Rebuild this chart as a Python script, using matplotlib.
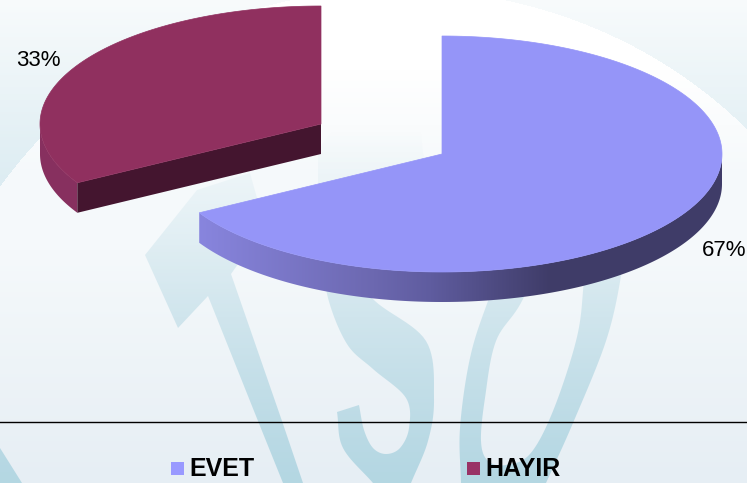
import numpy as np
import matplotlib
matplotlib.use("Agg")
import matplotlib.pyplot as plt
from matplotlib.patches import Polygon, Rectangle

plt.rcParams["font.family"] = ["Liberation Sans", "DejaVu Sans"]

categories = ["EVET", "HAYIR"]
values = [66.7, 33.3]

W, H = 747, 483

fig = plt.figure(figsize=(W / 100, H / 100), dpi=100)
ax = fig.add_axes([0, 0, 1, 1])
ax.set_xlim(0, W)
ax.set_ylim(H, 0)
ax.axis("off")

# background: pale gradient, white swoosh at the top, bluish tint outside it
xx, yy = np.meshgrid(np.arange(W) + 0.5, np.arange(H) + 0.5)
light = np.array([0xf5, 0xf9, 0xfb]) / 255
low = np.array([0xe6, 0xee, 0xf4]) / 255
t = np.clip((yy - 250) / 233, 0, 1)[..., None]
bg = light * (1 - t) + low * t
white = np.clip(1 - (yy - 70) / 110, 0, 1)[..., None]
bg = bg * (1 - white) + white
outside = ((xx - 398) / 477) ** 2 + ((yy - 430) / 441) ** 2 > 1
pale = np.array([0xf8, 0xfb, 0xfc]) / 255
tint = np.array([0xdc, 0xec, 0xf2]) / 255
s = np.clip(yy / 187, 0, 1)[..., None]
bg[outside] = (pale * (1 - s) + tint * s)[outside]
ax.imshow(bg, extent=[0, W, H, 0], aspect="auto", zorder=0)


def smooth(pts, n=12):
    # catmull-rom through an open run of points
    p = np.array(pts, dtype=float)
    p = np.vstack([2 * p[0] - p[1], p, 2 * p[-1] - p[-2]])
    out = []
    for i in range(1, len(p) - 2):
        u = np.linspace(0, 1, n, endpoint=False)[:, None]
        out.append(0.5 * (2 * p[i] + (p[i + 1] - p[i - 1]) * u
                          + (2 * p[i - 1] - 5 * p[i] + 4 * p[i + 1] - p[i + 2]) * u ** 2
                          + (3 * p[i] - p[i - 1] - 3 * p[i + 1] + p[i + 2]) * u ** 3))
    out.append(p[-2:-1])
    return np.vstack(out)


# watermark letters, ink gets stronger towards the bottom
t_shape = np.array([(145, 255), (178, 328), (208, 296), (258, 421), (283, 483), (303, 483),
                    (282, 421), (231, 274), (262, 230), (257, 198), (250, 173), (197, 190)])
s_shape = np.vstack([smooth([(322, 250), (328, 298), (347, 344), (373, 369), (406, 398),
                             (409, 428), (400, 448), (386, 454), (373, 448), (364, 430), (359, 405)]),
                     smooth([(337, 412), (343, 448), (373, 483)]),
                     smooth([(411, 483), (428, 441), (434, 398), (426, 341), (375, 301), (345, 265)])])
s_top = np.array([(318, 150), (318, 200), (440, 200), (423, 153), (420, 120), (340, 120)])
o_shape = np.vstack([smooth([(520, 220), (488, 301), (470, 358), (460, 428), (461, 483)]),
                     smooth([(546, 483), (573, 423), (606, 341), (621, 276), (625, 230)]),
                     smooth([(585, 230), (583, 291), (576, 341), (553, 411), (530, 454), (506, 465),
                             (488, 461), (481, 441), (485, 398), (496, 341), (523, 299), (555, 220)])])
corner = np.array([(0, 448), (22, 483), (0, 483)])
ink = np.zeros((H, 1, 4))
ink[..., :3] = np.array([0xb2, 0xd6, 0xe2]) / 255
ink[:, 0, 3] = np.clip((np.arange(H) - 130) / 360, 0, 0.95)
for shape in [t_shape, s_shape, s_top, o_shape, corner]:
    holder = Polygon(shape, closed=True, fc="none", ec="none", zorder=1)
    ax.add_patch(holder)
    im = ax.imshow(ink, extent=[0, W, H, 0], aspect="auto", zorder=1)
    im.set_clip_path(holder)

ax.axhline(422, color="black", lw=1, zorder=2)


def arc(cx, cy, rx, ry, a0, a1, dy=0):
    # angles in degrees clockwise from twelve o'clock
    a = np.radians(np.linspace(a0, a1, 240))
    return np.column_stack([cx + rx * np.sin(a), cy - ry * np.cos(a) + dy])


DEPTH = 30
split = 360 * values[0] / sum(values)

# blue slice
bx, by, brx, bry = 442, 154, 280, 118
front = arc(bx, by, brx, bry, 90, split)
wall = np.vstack([front, arc(bx, by, brx, bry, 90, split, DEPTH)[::-1]])
wall_patch = Polygon(wall, closed=True, fc="none", ec="none", zorder=3)
ax.add_patch(wall_patch)
stops_x = [199, 373, 430, 550, 722]
stops_rgb = np.array([[0x88, 0x85, 0xde], [0x6c, 0x68, 0xb0], [0x5f, 0x5c, 0x9f],
                      [0x3f, 0x3c, 0x68], [0x3f, 0x3c, 0x68]]) / 255
ramp = np.column_stack([np.interp(np.arange(W), stops_x, stops_rgb[:, i]) for i in range(3)])
img = ax.imshow(ramp[None, :, :], extent=[0, W, H, 0], aspect="auto", zorder=3)
img.set_clip_path(wall_patch)
top_pts = np.vstack([[(bx, by)], arc(bx, by, brx, bry, 0, split)])
ax.add_patch(Polygon(top_pts, closed=True, fc="#9595f8", ec="#9595f8", lw=0.5, zorder=4))

# red slice, pulled out
rx0, ry0, rrx, rry = 321, 124, 281, 118
edge = arc(rx0, ry0, rrx, rry, split, 270)
ax.add_patch(Polygon(np.vstack([edge, arc(rx0, ry0, rrx, rry, split, 270, DEPTH)[::-1]]),
                     closed=True, fc="#87305f", ec="none", zorder=3))
corner_pt = arc(rx0, ry0, rrx, rry, split, split)[0]
cut = [(rx0, ry0), tuple(corner_pt), (corner_pt[0], corner_pt[1] + DEPTH), (rx0, ry0 + DEPTH)]
ax.add_patch(Polygon(cut, closed=True, fc="#44152f", ec="none", zorder=3))
top_pts = np.vstack([[(rx0, ry0)], arc(rx0, ry0, rrx, rry, split, 360)])
ax.add_patch(Polygon(top_pts, closed=True, fc="#90305f", ec="#90305f", lw=0.5, zorder=4))

# percentage labels
ax.text(746, 251, f"{values[0]:.0f}%", fontsize=16, ha="right", va="center", color="black", zorder=5)
ax.text(16, 60, f"{values[1]:.0f}%", fontsize=16, ha="left", va="center", color="black", zorder=5)

# legend
legend_x = [171, 467]
legend_colors = ["#9999ff", "#993366"]
for name, x, c in zip(categories, legend_x, legend_colors):
    ax.add_patch(Rectangle((x, 462), 13, 13, fc=c, ec="none", zorder=5))
    ax.text(x + 18, 476.5, name, fontsize=18, fontweight="bold", ha="left", va="baseline",
            color="black", zorder=5)

fig.savefig("out.png", dpi=100)
